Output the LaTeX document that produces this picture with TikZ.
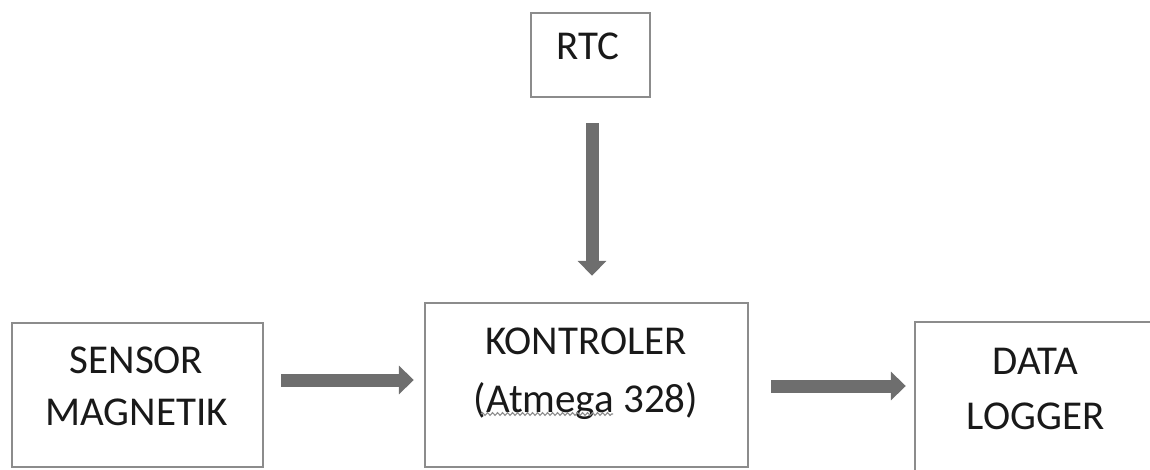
\documentclass[tikz,border=0pt]{standalone}
\usepackage{fontspec}
\setmainfont{Carlito}
\usetikzlibrary{arrows.meta,decorations.pathmorphing}
\definecolor{boxgray}{HTML}{8C8C8C}
\definecolor{arrgray}{HTML}{6E6E6E}
\tikzset{
  blk/.style={draw=boxgray, line width=2.4pt, fill=white, inner sep=0pt},
  lbl/.style={inner sep=0pt, align=center, text=black!90},
  fat/.style={draw=arrgray, line width=13pt, -{Triangle[width=28pt,length=15pt]}},
}
\begin{document}
\begin{tikzpicture}[x=1pt,y=1pt]
\useasboundingbox (0,0) rectangle (1150,469);
% boxes
\node[blk, minimum width=119pt, minimum height=84pt] (rtc) at (590.5,414) {};
\node[blk, minimum width=323pt, minimum height=164pt] (kon) at (586.5,84) {};
\node[blk, minimum width=251pt, minimum height=144pt] (sen) at (137.5,74) {};
\node[blk, minimum width=250pt, minimum height=158pt] (dat) at (1040,68) {};
% labels
\node[lbl, anchor=north, font=\fontsize{41}{52}\selectfont] (rtct) at (588,436) {RTC};
\node[lbl, anchor=north, font=\fontsize{41}{58}\selectfont] (kont) at (586,141) {KONTROLER\\(Atmega 328)};
\node[lbl, anchor=north, font=\fontsize{41}{52}\selectfont] (sent) at (136.5,122) {SENSOR\\MAGNETIK};
\node[lbl, anchor=north, font=\fontsize{41}{55}\selectfont] (datt) at (1035.5,121) {DATA\\LOGGER};
\coordinate (wv1) at (481,55);
\coordinate (wv2) at (613,55);
\draw[boxgray, line width=1.1pt, decorate, decoration={snake, amplitude=1.4pt, segment length=5pt}] (wv1) -- (wv2);
% arrows
\draw[fat, shorten <=25pt, shorten >=26pt] ([xshift=1.5pt]rtc.south) -- ([xshift=1.5pt]rtc.south |- kon.north);
\draw[fat, shorten <=17pt, shorten >=10pt] (sen.east |- 0,89) -- (kon.west |- 0,89);
\draw[fat, shorten <=22pt, shorten >=8pt] (kon.east |- 0,83) -- (dat.west |- 0,83);
\end{tikzpicture}
\end{document}
